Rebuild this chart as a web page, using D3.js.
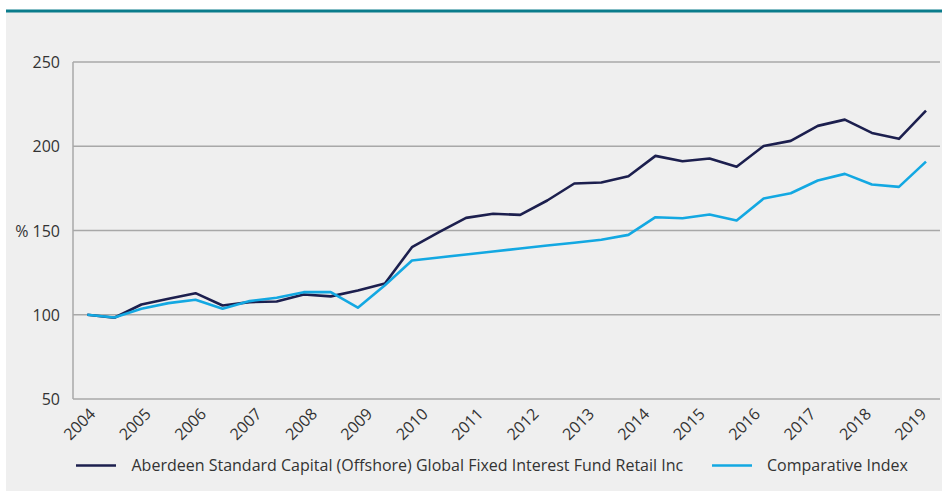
<!DOCTYPE html>
<html>
<head>
<meta charset="utf-8">
<script src="https://cdn.jsdelivr.net/npm/d3@7"></script>
<style>
  html, body { margin: 0; padding: 0; background: #ffffff; }
  svg { display: block; }
  text { font-family: "Open Sans", "Noto Sans", sans-serif; fill: #333333; }
</style>
</head>
<body>
<svg id="chart" width="942" height="491"></svg>
<script>
// ---- data ----
const periods = [
  "2004 H1","2004 H2","2005 H1","2005 H2","2006 H1","2006 H2","2007 H1","2007 H2",
  "2008 H1","2008 H2","2009 H1","2009 H2","2010 H1","2010 H2","2011 H1","2011 H2",
  "2012 H1","2012 H2","2013 H1","2013 H2","2014 H1","2014 H2","2015 H1","2015 H2",
  "2016 H1","2016 H2","2017 H1","2017 H2","2018 H1","2018 H2","2019 H1","2019 H2"
];
const fundValues = [
  100, 98.2, 106.1, 109.5, 112.8, 105.5, 107.5, 107.9,
  112, 110.9, 114.4, 118.6, 140.1, 149, 157.5, 159.9,
  159.3, 167.8, 177.9, 178.5, 182.2, 194.3, 191.1, 192.7,
  187.8, 200.2, 203.2, 212.1, 215.8, 207.9, 204.4, 221.2
];
const indexValues = [
  100, 98.4, 103.6, 106.9, 108.9, 103.6, 108.1, 110.1,
  113.4, 113.4, 104.2, 117.5, 132.2, 134.0, 135.8, 137.5,
  139.3, 141.1, 142.7, 144.5, 147.4, 157.9, 157.3, 159.5,
  155.9, 169.0, 172.1, 179.7, 183.6, 177.3, 175.9, 190.9
];
const yearLabels = ["2004","2005","2006","2007","2008","2009","2010","2011",
  "2012","2013","2014","2015","2016","2017","2018","2019"];
const yTicks = [50, 100, 150, 200, 250];
const seriesNames = [
  "Aberdeen Standard Capital (Offshore) Global Fixed Interest Fund Retail Inc",
  "Comparative Index"
];
const seriesColors = ["#1c1f4e", "#13a8e2"];

// ---- layout ----
const svg = d3.select("#chart");
const plot = { left: 73, right: 940, top: 62, bottom: 399 };

svg.append("rect").attr("x", 6).attr("y", 12).attr("width", 936).attr("height", 479).attr("fill", "#efefef");
svg.append("rect").attr("x", 6).attr("y", 9.5).attr("width", 936).attr("height", 3).attr("fill", "#0a7c8c");

const x = d3.scalePoint().domain(periods).range([87.3, 926]);
const xLab = d3.scalePoint().domain(yearLabels).range([96, 927]);
const y = d3.scaleLinear().domain([50, 250]).range([plot.bottom, plot.top]);

// gridlines
const grid = svg.append("g");
grid.selectAll("line").data(yTicks.filter(d => d > 50)).enter().append("line")
  .attr("x1", plot.left).attr("x2", plot.right)
  .attr("y1", d => y(d)).attr("y2", d => y(d))
  .attr("stroke", "#a8a8a8").attr("stroke-width", 1.5);

// axes lines
svg.append("line").attr("x1", plot.left).attr("x2", plot.left)
  .attr("y1", plot.top).attr("y2", plot.bottom).attr("stroke", "#a8a8a8").attr("stroke-width", 1.5);
svg.append("line").attr("x1", plot.left).attr("x2", plot.right)
  .attr("y1", plot.bottom).attr("y2", plot.bottom).attr("stroke", "#a8a8a8").attr("stroke-width", 1.5);

// y axis labels via d3 axis
const yAxis = d3.axisLeft(y).tickValues(yTicks).tickSize(0).tickPadding(13)
  .tickFormat(d => d === 150 ? "% 150" : d);
const yg = svg.append("g").attr("transform", `translate(${plot.left},0)`).call(yAxis);
yg.select(".domain").remove();
yg.selectAll("text").attr("font-size", 16).attr("fill", "#333").attr("font-family", "'Open Sans', sans-serif").attr("dy", "0.35em");

// x axis labels
const xAxis = d3.axisBottom(xLab).tickSize(0).tickPadding(0);
const xg = svg.append("g").attr("transform", `translate(0,${plot.bottom})`).call(xAxis);
xg.select(".domain").remove();
xg.selectAll(".tick text")
  .attr("font-size", 16).attr("fill", "#333").attr("font-family", "'Open Sans', sans-serif")
  .attr("text-anchor", "end").attr("dy", 0).attr("y", 0)
  .attr("transform", "translate(0,16) rotate(-45)");

// lines
const line = d3.line().x((d, i) => x(periods[i])).y(d => y(d));
[fundValues, indexValues].forEach((vals, k) => {
  svg.append("path").datum(vals).attr("d", line)
    .attr("fill", "none").attr("stroke", seriesColors[k])
    .attr("stroke-width", 2.6).attr("stroke-linejoin", "round");
});

// legend
const legendItems = [
  { x1: 76, x2: 116, tx: 131.5 },
  { x1: 712, x2: 752, tx: 767 }
];
legendItems.forEach((it, k) => {
  svg.append("line").attr("x1", it.x1).attr("x2", it.x2).attr("y1", 465.5).attr("y2", 465.5)
    .attr("stroke", seriesColors[k]).attr("stroke-width", 2.6);
  svg.append("text").attr("x", it.tx).attr("y", 465.5).attr("dy", "0.35em")
    .attr("font-size", 16).text(seriesNames[k]);
});
</script>
</body>
</html>
